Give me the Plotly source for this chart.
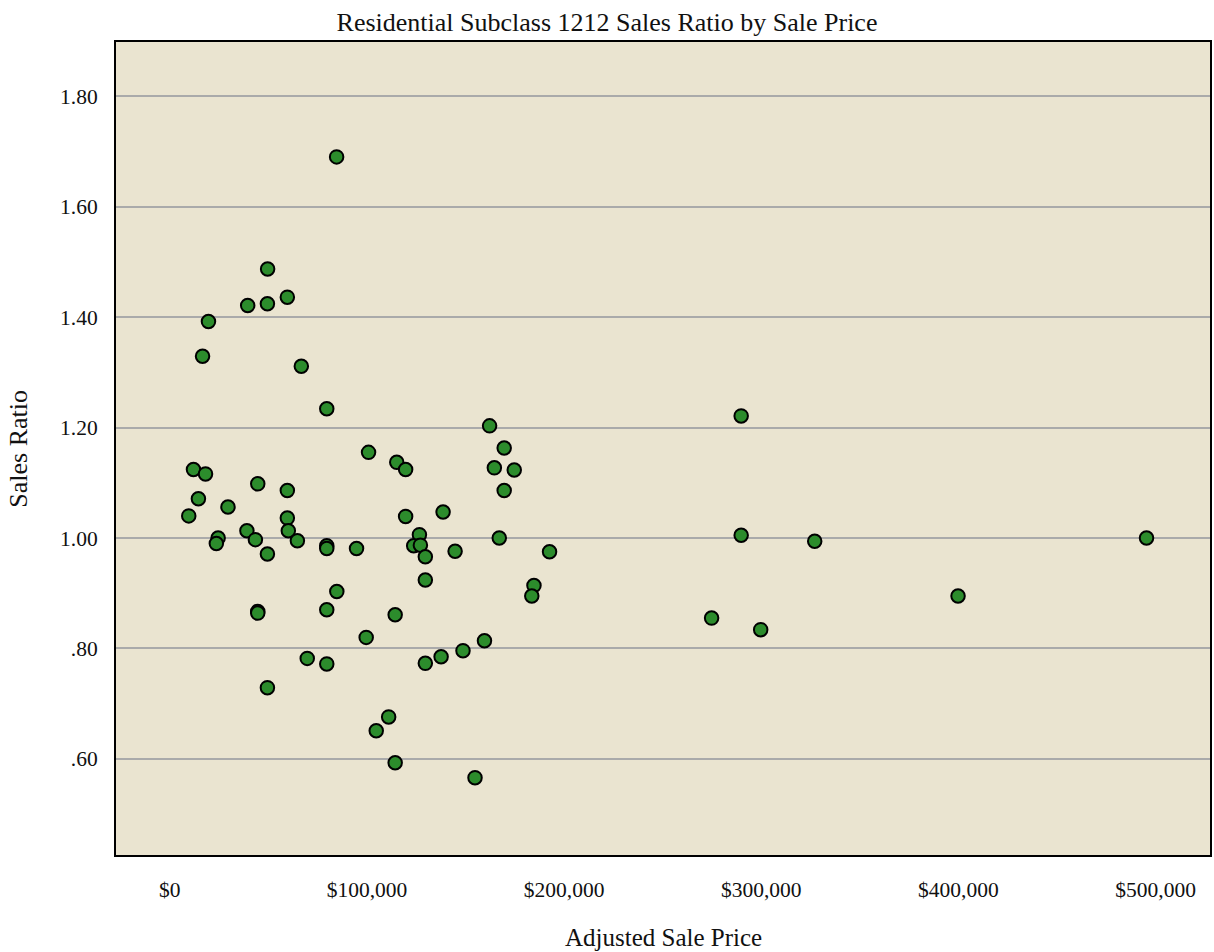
import plotly.graph_objects as go

# Adjusted sale price (dollars) and sales ratio
sale_price = [
    84600, 49600, 59600, 39500, 49500, 19600, 16600, 66700, 79600, 162200,
    289800, 169600, 100800, 115100, 119600, 164600, 174700, 12000, 18100, 14500,
    9600, 29500, 44600, 59600, 169600, 59600, 60100, 39100, 43400, 24500,
    23600, 64700, 49500, 79600, 79600, 94700, 119600, 138600, 126600, 123700,
    127100, 129600, 144700, 167100, 192600, 289800, 327100, 495400, 129600, 84700,
    184700, 183600, 399800, 79600, 44600, 44600, 114300, 274800, 299700, 99600,
    159600, 148700, 137600, 129600, 69700, 79600, 49500, 111000, 104700, 114300,
    154800,
]
sales_ratio = [
    1.690, 1.487, 1.436, 1.421, 1.424, 1.392, 1.329, 1.311, 1.234, 1.203,
    1.221, 1.163, 1.155, 1.137, 1.124, 1.127, 1.123, 1.124, 1.116, 1.071,
    1.040, 1.056, 1.098, 1.086, 1.086, 1.036, 1.013, 1.013, 0.997, 1.000,
    0.990, 0.995, 0.971, 0.986, 0.981, 0.981, 1.039, 1.047, 1.006, 0.986,
    0.987, 0.966, 0.976, 1.000, 0.975, 1.005, 0.994, 1.000, 0.924, 0.903,
    0.914, 0.895, 0.895, 0.870, 0.867, 0.864, 0.861, 0.855, 0.834, 0.820,
    0.814, 0.796, 0.785, 0.773, 0.782, 0.772, 0.729, 0.676, 0.651, 0.593,
    0.566,
]

x_tickvals = [0, 100000, 200000, 300000, 400000, 500000]
x_ticktext = ["$0", "$100,000", "$200,000", "$300,000", "$400,000", "$500,000"]
y_tickvals = [0.6, 0.8, 1.0, 1.2, 1.4, 1.6, 1.8]
y_ticktext = [".60", ".80", "1.00", "1.20", "1.40", "1.60", "1.80"]

FONT = "Liberation Serif"

fig = go.Figure()
fig.add_trace(go.Scatter(
    x=sale_price, y=sales_ratio, mode="markers",
    marker=dict(size=13.5, color="#2c8c2c", line=dict(color="#000000", width=2)),
    showlegend=False, hoverinfo="x+y",
))

fig.update_layout(
    width=1214, height=952,
    margin=dict(l=116, r=2, t=42, b=97),
    paper_bgcolor="#ffffff",
    plot_bgcolor="#EAE4D0",
    font=dict(family=FONT, size=21.5, color="#111111"),
    title=dict(text="Residential Subclass 1212 Sales Ratio by Sale Price",
               x=0.5, xref="container", xanchor="center",
               y=1 - 22 / 952, yref="container", yanchor="middle",
               font=dict(family=FONT, size=26, color="#111111")),
    xaxis=dict(range=[-27300, 527600], tickvals=x_tickvals, ticktext=x_ticktext,
               showgrid=False, zeroline=False, showline=True, mirror=True,
               linecolor="#000000", linewidth=2, ticks="", ticklabelstandoff=14),
    yaxis=dict(range=[0.426, 1.898], tickvals=y_tickvals, ticktext=y_ticktext,
               showgrid=True, gridcolor="#aaaaaa", gridwidth=1.5,
               zeroline=False, showline=True, mirror=True,
               linecolor="#000000", linewidth=2, ticks="", ticklabelstandoff=12),
    annotations=[
        dict(text="Adjusted Sale Price", xref="paper", yref="paper",
             x=0.5, y=(855 - 937) / 813, xanchor="center", yanchor="middle",
             showarrow=False, font=dict(family=FONT, size=25, color="#111111")),
        dict(text="Sales Ratio", xref="paper", yref="paper",
             x=(18 - 116) / 1096, y=0.5, xanchor="center", yanchor="middle",
             textangle=-90, showarrow=False,
             font=dict(family=FONT, size=26, color="#111111")),
    ],
)

fig.write_html("out.html",
               config={"displayModeBar": False},
               post_script="document.body.style.margin='0';document.body.style.padding='0';")
